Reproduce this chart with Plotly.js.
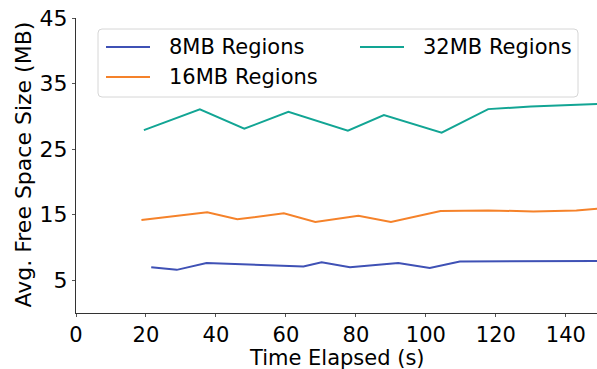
<!DOCTYPE html>
<html>
<head>
<meta charset="utf-8">
<script src="https://cdn.plot.ly/plotly-3.0.1.min.js"></script>
<style>
  html, body { margin: 0; padding: 0; background: #fff; }
  #chart { width: 597px; height: 369px; }
</style>
</head>
<body>
<div id="chart"></div>
<script>
// Average free space size per region size over elapsed time
const t8  = [21.5, 28.8, 37.3, 50.0, 65.0, 70.2, 78.3, 92.1, 101.1, 109.7, 130.0, 149.0];
const v8  = [6.98, 6.58, 7.64, 7.40, 7.10, 7.74, 6.98, 7.64, 6.88, 7.85, 7.88, 7.95];

const t16 = [18.7, 37.5, 46.1, 59.4, 68.4, 80.7, 90.0, 104.2, 117.8, 130.7, 143.0, 149.0];
const v16 = [14.2, 15.35, 14.3, 15.2, 13.9, 14.85, 13.9, 15.55, 15.65, 15.5, 15.65, 15.9];

const t32 = [19.4, 35.4, 48.1, 60.7, 77.7, 88.0, 104.5, 117.8, 130.0, 149.0];
const v32 = [27.9, 31.06, 28.1, 30.7, 27.8, 30.2, 27.5, 31.1, 31.5, 31.9];

const seriesNames = ['8MB Regions', '16MB Regions', '32MB Regions'];
const seriesColors = ['#3f51b5', '#f5822a', '#12a594'];

const xTicks = [0, 20, 40, 60, 80, 100, 120, 140];
const yTicks = [5, 15, 25, 35, 45];

const xTitle = 'Time Elapsed (s)';
const yTitle = 'Avg. Free Space Size (MB)';

const FONT = 'DejaVu Sans, sans-serif';

// plot area in pixels
const W = 597, H = 369;
const M = { l: 76, r: 0, t: 18, b: 56 };
const plotW = W - M.l - M.r, plotH = H - M.t - M.b;
const px = x => (x - M.l) / plotW;          // pixel x -> paper x
const py = y => (M.t + plotH - y) / plotH;  // pixel y -> paper y

const data = [
  [t8, v8], [t16, v16], [t32, v32]
].map(([x, y], i) => ({
  x: x, y: y, type: 'scatter', mode: 'lines',
  name: seriesNames[i],
  line: { color: seriesColors[i], width: 2 },
  hoverinfo: 'skip'
}));

// two-column legend: 8MB / 16MB in the first column, 32MB in the second
const legendBox = { x0: 98, y0: 29, x1: 578, y1: 97, r: 4 };
const legendSlots = [
  { col: 0, row: 0 }, // 8MB
  { col: 0, row: 1 }, // 16MB
  { col: 1, row: 0 }  // 32MB
];
const colX = [106, 360];
const rowY = [47, 77];
const sampleLen = 44, textGap = 17;

function roundedRectPath(b) {
  const x0 = px(b.x0), x1 = px(b.x1), y0 = py(b.y0), y1 = py(b.y1);
  const rx = b.r / plotW, ry = b.r / plotH;
  return `M${x0 + rx},${y0} L${x1 - rx},${y0} Q${x1},${y0} ${x1},${y0 - ry} ` +
         `L${x1},${y1 + ry} Q${x1},${y1} ${x1 - rx},${y1} L${x0 + rx},${y1} ` +
         `Q${x0},${y1} ${x0},${y1 + ry} L${x0},${y0 - ry} Q${x0},${y0} ${x0 + rx},${y0} Z`;
}

const shapes = [{
  type: 'path', xref: 'paper', yref: 'paper', layer: 'above',
  path: roundedRectPath(legendBox),
  fillcolor: 'rgba(255,255,255,0.8)',
  line: { color: '#d6d6d6', width: 1 }
}];
const annotations = [];
legendSlots.forEach((s, i) => {
  const x = colX[s.col], y = rowY[s.row];
  shapes.push({
    type: 'line', xref: 'paper', yref: 'paper', layer: 'above',
    x0: px(x), x1: px(x + sampleLen), y0: py(y), y1: py(y),
    line: { color: seriesColors[i], width: 2 }
  });
  annotations.push({
    xref: 'paper', yref: 'paper', x: px(x + sampleLen + textGap), y: py(y),
    xanchor: 'left', yanchor: 'middle', showarrow: false,
    text: seriesNames[i],
    font: { family: FONT, size: 21, color: '#000' }
  });
});

// axis titles, placed in pixels below / left of the tick labels
annotations.push({
  xref: 'paper', yref: 'paper', x: 0.5, y: py(358),
  xanchor: 'center', yanchor: 'middle', showarrow: false,
  text: xTitle, font: { family: FONT, size: 21, color: '#000' }
});
annotations.push({
  xref: 'paper', yref: 'paper', x: px(22.5), y: py(165),
  xanchor: 'center', yanchor: 'middle', showarrow: false, textangle: -90,
  text: yTitle, font: { family: FONT, size: 22, color: '#000' }
});

const axisCommon = {
  showgrid: false,
  zeroline: false,
  showline: true,
  linecolor: '#333',
  linewidth: 1,
  ticks: 'outside',
  ticklen: 3,
  tickwidth: 1,
  tickcolor: '#555',
  tickfont: { family: FONT, size: 22, color: '#000' },
  mirror: false
};

const layout = {
  width: W,
  height: H,
  margin: M,
  paper_bgcolor: '#fff',
  plot_bgcolor: '#fff',
  showlegend: false,
  font: { family: FONT, color: '#000' },
  xaxis: Object.assign({}, axisCommon, {
    range: [0, 148.9],
    tickvals: xTicks,
    ticktext: xTicks.map(String),
    tickfont: { family: FONT, size: 21, color: '#000' }
  }),
  yaxis: Object.assign({}, axisCommon, {
    range: [0, 45],
    tickvals: yTicks,
    ticktext: yTicks.map(String)
  }),
  shapes: shapes,
  annotations: annotations
};

Plotly.newPlot('chart', data, layout, { staticPlot: true, displayModeBar: false });
</script>
</body>
</html>
